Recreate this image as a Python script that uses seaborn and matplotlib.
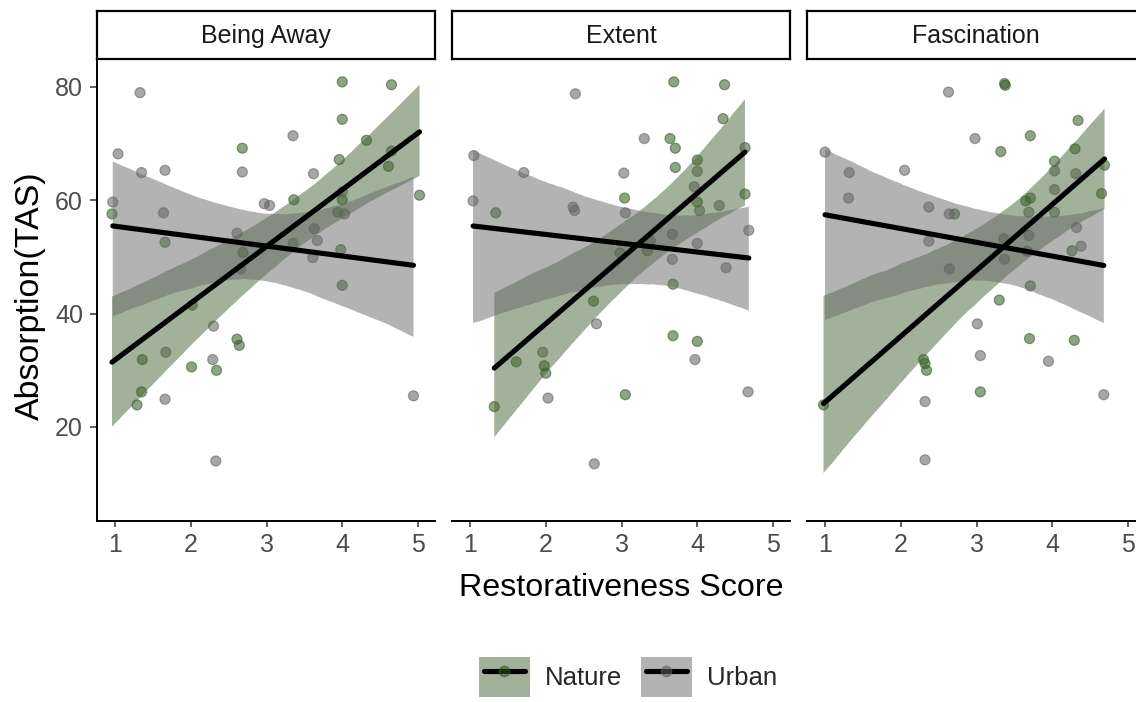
import numpy as np
import pandas as pd
import matplotlib
matplotlib.use("Agg")
import matplotlib.pyplot as plt
import seaborn as sns
from matplotlib.patches import Patch
from matplotlib.lines import Line2D
from matplotlib.legend_handler import HandlerTuple, HandlerLine2D

# ---------------- data ----------------
facets = ["Being Away", "Extent", "Fascination"]
groups = ["Nature", "Urban"]
x_ticks = [1, 2, 3, 4, 5]
y_ticks = [20, 40, 60, 80]

away_urban_x = [1.33, 1.04, 1.35, 1.66, 2.68, 3.35, 3.62, 0.97, 1.64, 2.97, 3.04, 2.61, 4.03,
                3.63, 3.67, 3.35, 3.61, 2.66, 2.30, 2.29, 1.67, 1.66, 2.33, 4.94, 4.00]
away_urban_y = [79.0, 68.2, 64.9, 65.3, 65.0, 71.4, 64.7, 59.7, 57.8, 59.4, 59.1, 54.2, 57.6,
                55.0, 52.9, 52.4, 49.9, 47.9, 37.8, 31.9, 33.2, 24.9, 14.0, 25.5, 61.5]
away_nature_x = [4.00, 4.65, 4.00, 2.68, 4.32, 4.65, 3.96, 4.61, 5.02, 3.36, 4.00, 3.94, 0.96,
                 1.66, 2.69, 3.98, 4.00, 2.02, 1.36, 2.01, 2.34, 2.61, 2.64, 1.35, 1.29]
away_nature_y = [80.9, 80.4, 74.3, 69.2, 70.6, 68.7, 67.2, 66.0, 60.9, 60.1, 60.1, 57.9, 57.6,
                 52.6, 50.8, 51.3, 45.0, 41.5, 31.9, 30.6, 30.0, 35.5, 34.4, 26.2, 23.9]

extent_urban_x = [2.39, 1.05, 1.71, 1.04, 2.36, 2.38, 3.30, 3.03, 3.05, 4.00, 3.96, 4.29,
                  4.03, 3.67, 4.68, 4.00, 3.67, 4.38, 1.96, 2.67, 3.97, 2.03, 4.67, 2.64]
extent_urban_y = [78.8, 67.9, 64.9, 59.9, 58.8, 58.2, 70.9, 64.8, 57.8, 65.1, 62.4, 59.1,
                  58.2, 54.0, 54.7, 52.4, 49.6, 48.1, 33.2, 38.2, 31.9, 25.1, 26.2, 13.5]
extent_nature_x = [3.69, 4.36, 4.34, 3.64, 3.71, 4.63, 3.71, 4.00, 3.04, 4.63, 1.34, 4.00,
                   3.38, 3.34, 2.98, 3.68, 2.63, 3.68, 4.00, 1.61, 1.98, 2.00, 3.05, 1.32]
extent_nature_y = [80.9, 80.4, 74.4, 70.9, 69.2, 69.3, 65.8, 67.1, 60.4, 61.1, 57.8, 59.7,
                   52.9, 51.1, 50.7, 45.2, 42.2, 36.1, 35.1, 31.5, 30.8, 29.5, 25.7, 23.6]

fasc_urban_x = [2.63, 1.00, 1.32, 1.31, 2.05, 2.98, 2.37, 2.64, 2.37, 3.69, 4.03, 4.03, 4.31,
                4.03, 3.69, 4.32, 4.38, 3.37, 2.64, 3.01, 3.05, 3.95, 2.32, 4.68, 2.32]
fasc_urban_y = [79.1, 68.5, 64.9, 60.4, 65.3, 70.9, 58.8, 57.6, 52.8, 57.9, 57.9, 65.2, 64.7,
                61.9, 53.8, 55.2, 51.9, 49.6, 47.9, 38.2, 32.6, 31.6, 24.5, 25.7, 14.2]
fasc_nature_x = [3.37, 3.38, 4.34, 3.71, 3.32, 4.30, 4.03, 4.69, 3.71, 3.65, 4.65, 2.71,
                 3.36, 3.67, 4.26, 3.71, 3.30, 3.70, 4.29, 2.30, 2.32, 2.34, 3.05, 0.98]
fasc_nature_y = [80.6, 80.3, 74.1, 71.4, 68.6, 69.1, 66.9, 66.2, 60.4, 59.9, 61.2, 57.6,
                 53.2, 51.0, 51.1, 44.9, 42.4, 35.6, 35.3, 31.9, 31.2, 30.0, 26.2, 23.9]

series = {
    ("Being Away", "Nature"): (away_nature_x, away_nature_y),
    ("Being Away", "Urban"): (away_urban_x, away_urban_y),
    ("Extent", "Nature"): (extent_nature_x, extent_nature_y),
    ("Extent", "Urban"): (extent_urban_x, extent_urban_y),
    ("Fascination", "Nature"): (fasc_nature_x, fasc_nature_y),
    ("Fascination", "Urban"): (fasc_urban_x, fasc_urban_y),
}
rows = []
for (f, g), (xs, ys) in series.items():
    for xv, yv in zip(xs, ys):
        rows.append({"facet": f, "group": g, "score": xv, "tas": yv})
df = pd.DataFrame(rows)

# ---------------- style ----------------
sns.set_theme(style="white")
plt.rcParams['font.family'] = ['Liberation Sans', 'DejaVu Sans']

point_col = {"Nature": "#2f5a22", "Urban": "#5f5f5f"}
band_col = {"Nature": "#476537", "Urban": "#696969"}
POINT_ALPHA = 0.55
BAND_ALPHA = 0.5

W, H = 1136, 702
fig = plt.figure(figsize=(W / 100, H / 100), dpi=100)
fig.patch.set_facecolor("white")

def fx(px):
    return px / W

def fy(py):
    return 1 - py / H

panel_left0, panel_w, gap = 97, 338, 17
panel_top, panel_bot = 59, 521
strip_top = 11

tick_fs = 18
strip_fs = 18
xtitle_fs = 23.2
ytitle_fs = 24.5

for i, fac in enumerate(facets):
    left = panel_left0 + i * (panel_w + gap)
    ax = fig.add_axes([fx(left), fy(panel_bot), fx(panel_w), (panel_bot - panel_top) / H])
    sub = df[df.facet == fac]
    sns.scatterplot(data=sub, x="score", y="tas", hue="group", palette=point_col,
                    hue_order=groups, s=52, alpha=POINT_ALPHA, linewidth=0.9,
                    edgecolor=None, legend=False, ax=ax, zorder=1)
    for coll in ax.collections:
        coll.set_edgecolor(coll.get_facecolor())
    for g in groups:
        n_before = len(ax.collections)
        sns.regplot(data=sub[sub.group == g], x="score", y="tas", ax=ax, scatter=False,
                    color=band_col[g], ci=95, n_boot=6000, seed=3,
                    line_kws=dict(color="black", lw=3.7, zorder=4))
        for coll in ax.collections[n_before:]:
            coll.set_facecolor(band_col[g])
            coll.set_alpha(BAND_ALPHA)
            coll.set_zorder(3)
            coll.set_edgecolor("none")
    ax.set_xlim(0.762, 5.224)
    ax.set_ylim(3.41, 84.94)
    ax.set_xticks(x_ticks)
    ax.set_xticklabels([str(t) for t in x_ticks])
    ax.set_xlabel("")
    ax.set_ylabel("")
    ax.set_facecolor("white")
    for s in ["top", "right"]:
        ax.spines[s].set_visible(False)
    ax.spines["bottom"].set_color("black")
    ax.spines["bottom"].set_linewidth(1.4)
    ax.tick_params(axis="x", direction="out", length=4.5, width=1.1, color="#333333",
                   labelsize=tick_fs, labelcolor="#4d4d4d", pad=4, bottom=True)
    if i == 0:
        ax.spines["left"].set_color("black")
        ax.spines["left"].set_linewidth(1.4)
        ax.set_yticks(y_ticks)
        ax.set_yticklabels([str(t) for t in y_ticks])
        ax.tick_params(axis="y", direction="out", length=5, width=1.1, color="#333333",
                       labelsize=tick_fs, labelcolor="#4d4d4d", pad=5, left=True)
    else:
        ax.spines["left"].set_visible(False)
        ax.set_yticks(y_ticks)
        ax.tick_params(axis="y", left=False, labelleft=False)
    # strip
    sax = fig.add_axes([fx(left), fy(panel_top), fx(panel_w), (panel_top - strip_top) / H])
    sax.set_xticks([])
    sax.set_yticks([])
    sax.set_facecolor("white")
    for s in sax.spines.values():
        s.set_visible(True)
        s.set_color("black")
        s.set_linewidth(1.6)
    sax.text(0.5, 0.47, fac, ha="center", va="center", fontsize=strip_fs,
             color="#1a1a1a", transform=sax.transAxes)

fig.text(fx(30), fy(296), "Absorption(TAS)", rotation=90, ha="center", va="center",
         fontsize=ytitle_fs, color="black")
fig.text(fx(621), fy(588), "Restorativeness Score", ha="center", va="center",
         fontsize=xtitle_fs, color="black")


class ShortLineHandler(HandlerLine2D):
    """Legend line that leaves a small margin inside the key box."""
    def get_xdata(self, legend, xdescent, ydescent, width, height, fontsize):
        pad = 0.1 * width
        xdata = np.array([-xdescent + pad, -xdescent + width - pad])
        xmark = np.array([-xdescent + 0.5 * width])
        return xdata, xmark


def rgba(hexc, a):
    c = matplotlib.colors.to_rgba(hexc)
    return (c[0], c[1], c[2], a)

handles = []
hmap = {tuple: HandlerTuple(ndivide=1, pad=0)}
for g in groups:
    patch = Patch(facecolor=rgba(band_col[g], BAND_ALPHA), edgecolor="none")
    line = Line2D([0], [0], color="black", lw=3.7, marker="o", markersize=7.5,
                  markerfacecolor=rgba(point_col[g], POINT_ALPHA),
                  markeredgecolor=rgba(point_col[g], POINT_ALPHA))
    hmap[line] = ShortLineHandler(numpoints=1)
    handles.append((patch, line))
fig.legend(handles, groups, handler_map=hmap,
           loc="center", bbox_to_anchor=(fx(628), fy(677)), ncol=2, frameon=False,
           fontsize=18.5, handlelength=2.0, handleheight=2.0, handletextpad=0.6,
           columnspacing=0.7, borderpad=0)

fig.savefig("out.png", dpi=100, facecolor="white")
